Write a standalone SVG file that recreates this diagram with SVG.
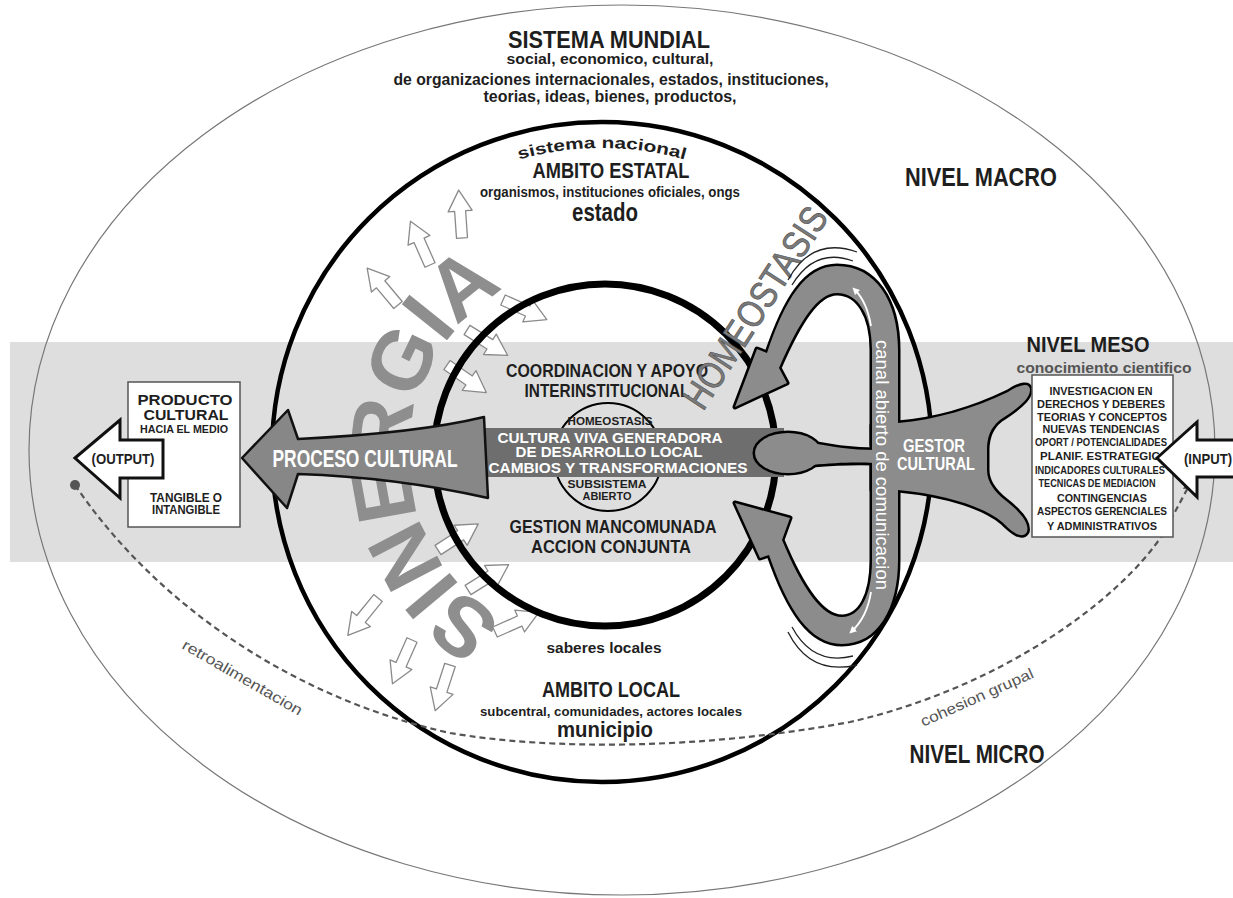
<svg xmlns="http://www.w3.org/2000/svg" width="1233" height="898" viewBox="0 0 1233 898">
<style>
.t{font-family:"Liberation Sans",Arial,sans-serif;font-weight:bold;fill:#1e1e1e;text-anchor:middle}
.w{fill:#fff}
.g{fill:#555}
.n{font-weight:normal}
.ha{fill:#fff;stroke:#8a8a8a;stroke-width:1.3;stroke-linejoin:round}
.ol{fill:#000;stroke:#000;stroke-width:5;stroke-linejoin:round}
.fl{fill:#8c8c8c;stroke:none}
.thin{fill:none;stroke:#222;stroke-width:1.3}
</style>
<defs>
<path id="ha" d="M0,-5.5 H27 V-12 L48,0 L27,12 V5.5 H0 Z"/>
<path id="upL" d="M872,445 L872,350 C872,315 858,293 837,293 C818,293 800,320 779,368 L787,383 L735,407 L757,349 L767,353 C785,300 805,266 837,266 C875,266 898,300 898,350 L898,445 Z"/>
<path id="dnL" d="M872,465 L872,560 C872,596 860,617 842,617 C822,617 803,590 782,540 L790,518 L735,503 L760,558 L769,555 C788,610 810,644 842,644 C878,644 898,608 898,560 L898,465 Z"/>
<path id="body" d="M872,425 L898,423 C935,420 975,408 1008,392 C1020,384 1030,382 1030,390 C1030,400 1015,410 1000,420 C990,428 987,438 987,450 L987,470 C987,482 995,492 1005,500 C1018,510 1030,522 1027,532 C1022,540 1012,532 1002,522 C985,508 950,495 898,490 L872,490 Z"/>
<path id="neck" d="M812,443 C835,447 850,450 875,450 L875,463 C850,462 835,463 812,465 Z"/>
<ellipse id="bulb" cx="788" cy="453" rx="33" ry="20"/>
<path id="sinP" d="M504.5,620.4 A191,191 0 0 1 510.3,286.4"/>
<path id="nacP" d="M450,188.7 A304,304 0 0 1 754,188.7"/>
<marker id="wa" viewBox="0 0 10 10" refX="5" refY="5" markerWidth="4" markerHeight="4" orient="auto"><path d="M0,0 L10,5 L0,10 z" fill="#fff"/></marker>
</defs>

<rect width="1233" height="898" fill="#fff"/>
<rect id="banda" x="10" y="342" width="1223" height="220" fill="#dedede"/>

<g id="sistema-mundial">
<ellipse cx="622" cy="450" rx="593" ry="445" fill="none" stroke="#777" stroke-width="1.2"/>
<text class="t" x="609" y="48" font-size="24" textLength="202" lengthAdjust="spacingAndGlyphs">SISTEMA MUNDIAL</text>
<text class="t" x="610" y="64" font-size="14.5" textLength="207" lengthAdjust="spacingAndGlyphs">social, economico, cultural,</text>
<text class="t" x="611" y="85" font-size="16" textLength="435" lengthAdjust="spacingAndGlyphs">de organizaciones internacionales, estados, instituciones,</text>
<text class="t" x="610" y="102" font-size="16" textLength="253" lengthAdjust="spacingAndGlyphs">teorias, ideas, bienes, productos,</text>
<text class="t" x="981" y="186" font-size="26" textLength="152" lengthAdjust="spacingAndGlyphs">NIVEL MACRO</text>
<text class="t" x="977" y="763" font-size="26" textLength="135" lengthAdjust="spacingAndGlyphs">NIVEL MICRO</text>
</g>

<g id="sistema-nacional">
<circle cx="602" cy="452" r="330" fill="none" stroke="#000" stroke-width="4.5"/>
<text class="t" font-size="16"><textPath href="#nacP" startOffset="50%" textLength="168" lengthAdjust="spacingAndGlyphs">sistema nacional</textPath></text>
<text class="t" x="611" y="178" font-size="22" textLength="157" lengthAdjust="spacingAndGlyphs">AMBITO ESTATAL</text>
<text class="t" x="610" y="197" font-size="14" textLength="260" lengthAdjust="spacingAndGlyphs">organismos, instituciones oficiales, ongs</text>
<text class="t" x="605" y="221" font-size="25" textLength="66" lengthAdjust="spacingAndGlyphs">estado</text>
<text class="t" x="604" y="653" font-size="15" fill="#333" textLength="115" lengthAdjust="spacingAndGlyphs">saberes locales</text>
<text class="t" x="611" y="697" font-size="22" textLength="138" lengthAdjust="spacingAndGlyphs">AMBITO LOCAL</text>
<text class="t" x="611" y="716" font-size="13.5" textLength="262" lengthAdjust="spacingAndGlyphs">subcentral, comunidades, actores locales</text>
<text class="t" x="605" y="737" font-size="22" textLength="96" lengthAdjust="spacingAndGlyphs">municipio</text>
</g>

<g id="conectores">
<path d="M75,485 C160,610 300,700 450,733 C550,750 700,750 850,722 C1000,688 1120,600 1163,534 L1190,484" fill="none" stroke="#555" stroke-width="2.2" stroke-dasharray="6,4"/>
<circle cx="75" cy="485" r="5" fill="#555"/>
<polygon points="1183,489 1194,468 1198,488" fill="#555"/>
<text class="t n g" font-size="15" transform="translate(240,682) rotate(30)" textLength="136" lengthAdjust="spacingAndGlyphs">retroalimentacion</text>
<text class="t n g" font-size="15" transform="translate(979,702) rotate(-24)" textLength="122" lengthAdjust="spacingAndGlyphs">cohesion grupal</text>
</g>

<g id="sinergia">
<text class="t" font-size="84" style="fill:#8e8e8e;text-anchor:start"><textPath href="#sinP" textLength="400" lengthAdjust="spacing">SINERGIA</textPath></text>
<use href="#ha" class="ha" transform="translate(462,238) rotate(-94)"/>
<use href="#ha" class="ha" transform="translate(430,265) rotate(-114)"/>
<use href="#ha" class="ha" transform="translate(398,305) rotate(-130)"/>
<use href="#ha" class="ha" transform="translate(503,300) rotate(24)"/>
<use href="#ha" class="ha" transform="translate(467,330) rotate(32)"/>
<use href="#ha" class="ha" transform="translate(447,365) rotate(35)"/>
<use href="#ha" class="ha" transform="translate(438,550) rotate(-33)"/>
<use href="#ha" class="ha" transform="translate(468,590) rotate(-32)"/>
<use href="#ha" class="ha" transform="translate(495,632) rotate(-24)"/>
<use href="#ha" class="ha" transform="translate(378,598) rotate(129)"/>
<use href="#ha" class="ha" transform="translate(412,640) rotate(114)"/>
<use href="#ha" class="ha" transform="translate(450,665) rotate(108)"/>
</g>

<g id="subsistema">
<circle cx="605" cy="455" r="171" fill="none" stroke="#000" stroke-width="7"/>
<circle cx="608" cy="457" r="54" fill="none" stroke="#000" stroke-width="2"/>
<text class="t" x="607" y="377" font-size="19" textLength="202" lengthAdjust="spacingAndGlyphs">COORDINACION Y APOYO</text>
<text class="t" x="607" y="397" font-size="19" textLength="165" lengthAdjust="spacingAndGlyphs">INTERINSTITUCIONAL</text>
<text class="t" x="613" y="533" font-size="19" textLength="207" lengthAdjust="spacingAndGlyphs">GESTION MANCOMUNADA</text>
<text class="t" x="611" y="553" font-size="19" textLength="160" lengthAdjust="spacingAndGlyphs">ACCION CONJUNTA</text>
<text class="t" x="610" y="425" font-size="10" textLength="85" lengthAdjust="spacingAndGlyphs">HOMEOSTASIS</text>
<text class="t" x="607" y="488" font-size="11" textLength="79" lengthAdjust="spacingAndGlyphs">SUBSISTEMA</text>
<text class="t" x="607" y="500" font-size="11" textLength="49" lengthAdjust="spacingAndGlyphs">ABIERTO</text>
</g>

<g id="cultura-viva">
<rect x="484" y="428" width="300" height="49" fill="#6e6e6e"/>
<text class="t w" x="610" y="443" font-size="14.5" textLength="225" lengthAdjust="spacingAndGlyphs">CULTURA VIVA GENERADORA</text>
<text class="t w" x="609" y="457" font-size="14.5" textLength="187" lengthAdjust="spacingAndGlyphs">DE DESARROLLO LOCAL</text>
<text class="t w" x="618" y="473" font-size="14.5" textLength="259" lengthAdjust="spacingAndGlyphs">CAMBIOS Y TRANSFORMACIONES</text>
</g>

<g id="homeostasis">
<text class="t n" font-size="38" style="fill:#7a7a7a;stroke:#4a4a4a;stroke-width:0.6;text-anchor:start" transform="translate(703,412) rotate(-57)" textLength="232" lengthAdjust="spacingAndGlyphs">HOMEOSTASIS</text>
<path class="thin" d="M788,280 Q812,236 857,252"/>
<path class="thin" d="M792,285 Q815,247 853,261"/>
<path class="thin" d="M788,632 Q810,676 857,665"/>
<path class="thin" d="M792,627 Q813,666 853,656"/>
</g>

<g id="gestor-cultural">
<use href="#upL" class="ol"/><use href="#dnL" class="ol"/><use href="#body" class="ol"/><use href="#neck" class="ol"/><use href="#bulb" class="ol"/>
<use href="#upL" class="fl"/><use href="#dnL" class="fl"/><use href="#body" class="fl"/><use href="#neck" class="fl"/><use href="#bulb" class="fl"/>
<text class="t w n" font-size="18" transform="translate(876,465) rotate(90)" textLength="250" lengthAdjust="spacingAndGlyphs">canal abierto de comunicacion</text>
<path d="M871,326 Q867,302 855,290" fill="none" stroke="#fff" stroke-width="1.8" marker-end="url(#wa)"/>
<path d="M871,592 Q867,617 852,631" fill="none" stroke="#fff" stroke-width="1.8" marker-end="url(#wa)"/>
<text class="t w" x="934" y="452" font-size="19" textLength="62" lengthAdjust="spacingAndGlyphs">GESTOR</text>
<text class="t w" x="936" y="470" font-size="19" textLength="78" lengthAdjust="spacingAndGlyphs">CULTURAL</text>
</g>

<g id="proceso-cultural">
<path d="M242,458 L288,410 L298,439 C360,436 430,430 484,417 L488,498 C430,485 360,476 298,474 L287,508 Z" fill="#878787" stroke="#111" stroke-width="2.5" stroke-linejoin="round"/>
<text class="t w" x="365" y="467" font-size="23" textLength="185" lengthAdjust="spacingAndGlyphs">PROCESO CULTURAL</text>
</g>

<g id="producto-cultural">
<rect x="128" y="382" width="112" height="145" fill="#fff" stroke="#555" stroke-width="1.5"/>
<text class="t" x="185" y="405" font-size="15.5" textLength="95" lengthAdjust="spacingAndGlyphs">PRODUCTO</text>
<text class="t" x="186" y="420" font-size="15.5" textLength="85" lengthAdjust="spacingAndGlyphs">CULTURAL</text>
<text class="t" x="184" y="433" font-size="11" textLength="88" lengthAdjust="spacingAndGlyphs">HACIA EL MEDIO</text>
<text class="t" x="186" y="502" font-size="12" textLength="72" lengthAdjust="spacingAndGlyphs">TANGIBLE O</text>
<text class="t" x="186" y="514" font-size="12" textLength="68" lengthAdjust="spacingAndGlyphs">INTANGIBLE</text>
</g>

<g id="output">
<path d="M75,458 L120,420 L120,440 L163,440 L163,478 L120,478 L120,498 Z" fill="#fff" stroke="#111" stroke-width="3" stroke-linejoin="miter"/>
<text class="t" x="123" y="464" font-size="14" textLength="63" lengthAdjust="spacingAndGlyphs">(OUTPUT)</text>
</g>

<g id="nivel-meso">
<text class="t" x="1088" y="352" font-size="22" textLength="123" lengthAdjust="spacingAndGlyphs">NIVEL MESO</text>
<text class="t g" x="1104" y="373" font-size="15" textLength="175" lengthAdjust="spacingAndGlyphs">conocimiento cientifico</text>
<rect x="1032" y="375" width="141" height="162" fill="#fff" stroke="#555" stroke-width="1.5"/>
<g font-size="11.5">
<text class="t" x="1101" y="395" textLength="103" lengthAdjust="spacingAndGlyphs">INVESTIGACION EN</text>
<text class="t" x="1101" y="408" textLength="128" lengthAdjust="spacingAndGlyphs">DERECHOS Y DEBERES</text>
<text class="t" x="1102" y="421" textLength="130" lengthAdjust="spacingAndGlyphs">TEORIAS Y CONCEPTOS</text>
<text class="t" x="1101" y="433" textLength="117" lengthAdjust="spacingAndGlyphs">NUEVAS TENDENCIAS</text>
<text class="t" x="1101" y="446" textLength="132" lengthAdjust="spacingAndGlyphs">OPORT / POTENCIALIDADES</text>
<text class="t" x="1104" y="460" textLength="128" lengthAdjust="spacingAndGlyphs">PLANIF. ESTRATEGICA</text>
<text class="t" x="1100" y="474" textLength="130" lengthAdjust="spacingAndGlyphs">INDICADORES CULTURALES</text>
<text class="t" x="1097" y="487" textLength="117" lengthAdjust="spacingAndGlyphs">TECNICAS DE MEDIACION</text>
<text class="t" x="1102" y="502" textLength="90" lengthAdjust="spacingAndGlyphs">CONTINGENCIAS</text>
<text class="t" x="1102" y="515" textLength="130" lengthAdjust="spacingAndGlyphs">ASPECTOS GERENCIALES</text>
<text class="t" x="1102" y="530" textLength="110" lengthAdjust="spacingAndGlyphs">Y ADMINISTRATIVOS</text>
</g>
</g>

<g id="input">
<path d="M1157,458 L1197,422 L1197,440 L1240,440 L1240,477 L1197,477 L1197,497 Z" fill="#fff" stroke="#111" stroke-width="3"/>
<text class="t" x="1184" y="464" font-size="14" style="text-anchor:start" textLength="48" lengthAdjust="spacingAndGlyphs">(INPUT)</text>
</g>
</svg>
